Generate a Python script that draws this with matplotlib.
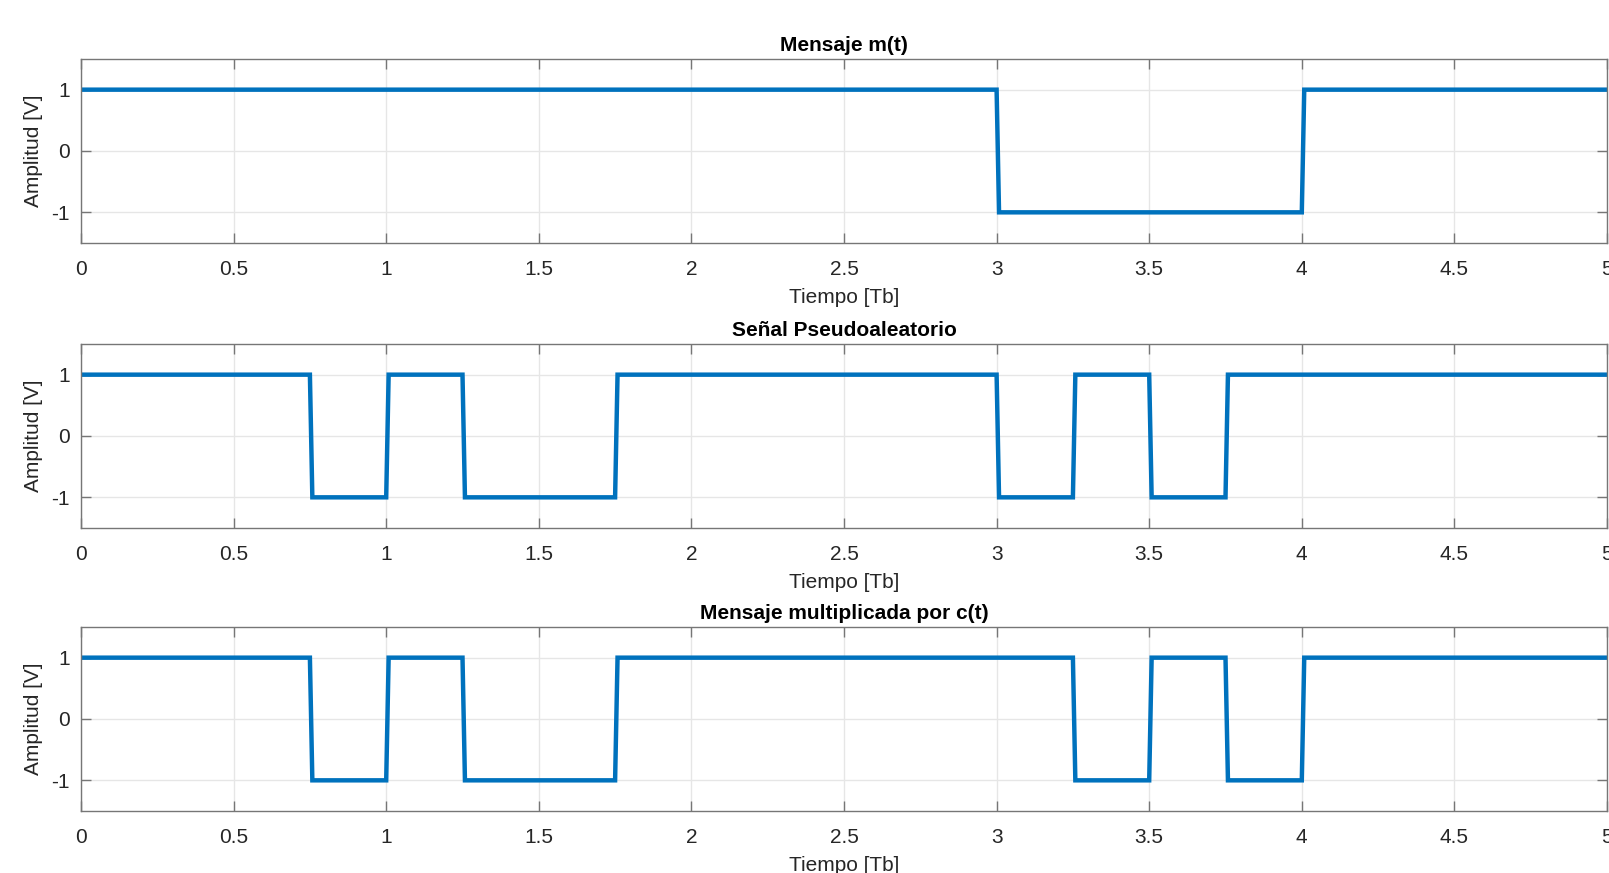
import numpy as np
import matplotlib
matplotlib.use("Agg")
import matplotlib.pyplot as plt

# data: values per interval of the time axis [Tb]
msg_bits = [1, 1, 1, -1, 1]              # one value per Tb
pn_chips = [1, 1, 1, -1, 1, -1, -1, 1, 1, 1,
            1, 1, -1, 1, -1, 1, 1, 1, 1, 1]   # one chip per Tb/4
prod_chips = [1, 1, 1, -1, 1, -1, -1, 1, 1, 1,
              1, 1, 1, -1, 1, -1, 1, 1, 1, 1]

titles = ["Mensaje m(t)", "Señal Pseudoaleatorio", "Mensaje multiplicada por c(t)"]
T_END = 5.0
dt = 0.008  # sample step used when the signal was plotted

plt.rcParams['font.family'] = ['Liberation Sans', 'DejaVu Sans']


def step_xy(vals, t_end):
    w = t_end / len(vals)
    xs, ys = [], []
    for i, v in enumerate(vals):
        t0 = i * w
        if i > 0 and vals[i - 1] != v:
            xs.append(t0 + dt)
        else:
            xs.append(t0)
        ys.append(v)
        xs.append((i + 1) * w)
        ys.append(v)
    return xs, ys


fig = plt.figure(figsize=(16.09, 8.73), dpi=100)
W, H = 1609.0, 873.0
tops = [59, 344, 627]
ax_h = 184
left, right = 81, 1607

frame_col = '#767676'
text_col = '#262626'

for k, (vals, title) in enumerate(zip([msg_bits, pn_chips, prod_chips], titles)):
    top = tops[k]
    ax = fig.add_axes([left / W, 1 - (top + ax_h) / H, (right - left) / W, ax_h / H])
    xs, ys = step_xy(vals, T_END)
    ax.plot(xs, ys, color='#0072BD', linewidth=3.2, solid_joinstyle='miter')
    ax.set_xlim(0, 5)
    ax.set_ylim(-1.5, 1.5)
    ax.set_xticks(np.arange(0, 5.01, 0.5))
    ax.set_xticklabels(['0', '0.5', '1', '1.5', '2', '2.5', '3', '3.5', '4', '4.5', '5'])
    ax.set_yticks([-1, 0, 1])
    ax.set_yticklabels(['-1', '0', '1'])
    ax.grid(True, color='#e6e6e6', linewidth=1.0)
    ax.set_axisbelow(True)
    ax.tick_params(direction='in', length=7, width=1.0, color=frame_col,
                   top=True, right=True, labelsize=15, labelcolor=text_col)
    ax.tick_params(axis='x', pad=12)
    ax.tick_params(axis='y', pad=8)
    for sp in ax.spines.values():
        sp.set_color(frame_col)
        sp.set_linewidth(1.0)
    ax.set_title(title, fontsize=15, fontweight='bold', color='black', pad=6)
    ax.set_xlabel("Tiempo [Tb]", fontsize=15, color=text_col, labelpad=7)
    ax.set_ylabel("Amplitud [V]", fontsize=15, color=text_col, labelpad=6)

fig.savefig("out.png", dpi=100)
plt.close(fig)
